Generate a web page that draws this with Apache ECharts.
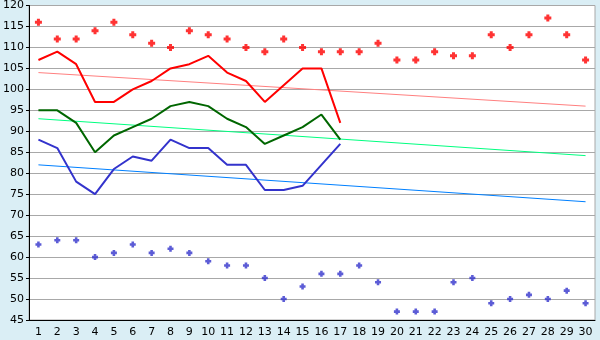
<!DOCTYPE html>
<html><head><meta charset="utf-8">
<script src="https://cdn.jsdelivr.net/npm/echarts@6/dist/echarts.min.js"></script>
<style>html,body{margin:0;padding:0;background:#daeef5;}#c{width:600px;height:340px;}</style>
</head><body><div id="c"></div>
<script>
const categories = ['1','2','3','4','5','6','7','8','9','10','11','12','13','14','15','16','17','18','19','20','21','22','23','24','25','26','27','28','29','30'];
const yTicks = [45,50,55,60,65,70,75,80,85,90,95,100,105,110,115,120];
const redDots = [116,112,112,114,116,113,111,110,114,113,112,110,109,112,110,109,109,109,111,107,107,109,108,108,113,110,113,117,113,107];
const redLine = [107,109,106,97,97,100,102,105,106,108,104,102,97,101,105,105,92];
const greenLine = [95,95,92,85,89,91,93,96,97,96,93,91,87,89,91,94,88];
const blueLine = [88,86,78,75,81,84,83,88,86,86,82,82,76,76,77,82,87];
const blueDots = [63,64,64,60,61,63,61,62,61,59,58,58,55,50,53,56,56,58,54,47,47,47,54,55,49,50,51,50,52,49];
const redTrend = [['1',104],['30',96]];
const greenTrend = [['1',93],['30',84.2]];
const blueTrend = [['1',82],['30',73.2]];

const plus = 'path://M2,0H5V2H7V5H5V7H2V5H0V2H2Z';
const chart = echarts.init(document.getElementById('c'));
const font = 'DejaVu Sans';
chart.setOption({
  backgroundColor: '#daeef5',
  animation: false,
  grid: {left: 26, right: 5, top: 5, bottom: 20, show: true, backgroundColor: '#ffffff', borderColor: '#a8a8a8', borderWidth: 1},
  xAxis: {
    type: 'category', data: categories, boundaryGap: true,
    axisLine: {lineStyle: {color: '#000000', width: 1}},
    axisTick: {alignWithLabel: true, length: 5, lineStyle: {color: '#000'}},
    axisLabel: {color: '#000', fontFamily: font, fontSize: 11, margin: 7, interval: 0},
    splitLine: {show: false}
  },
  yAxis: {
    type: 'value', min: 45, max: 120, interval: 5,
    axisLine: {show: true, lineStyle: {color: '#000000'}},
    axisTick: {show: true, length: 3, lineStyle: {color: '#000'}},
    axisLabel: {color: '#000', fontFamily: font, fontSize: 11, margin: 5},
    splitLine: {lineStyle: {color: '#a8a8a8', width: 1}}
  },
  series: [
    {type: 'line', data: redTrend, symbol: 'none', lineStyle: {color: '#ff8080', width: 1}, z: 1},
    {type: 'line', data: greenTrend, symbol: 'none', lineStyle: {color: '#00ff80', width: 1}, z: 1},
    {type: 'line', data: blueTrend, symbol: 'none', lineStyle: {color: '#0080ff', width: 1}, z: 1},
    {type: 'line', data: redLine, symbol: 'none', lineStyle: {color: '#ff0000', width: 2}, z: 3},
    {type: 'line', data: greenLine, symbol: 'none', lineStyle: {color: '#006600', width: 2}, z: 3},
    {type: 'line', data: blueLine, symbol: 'none', lineStyle: {color: '#3333cc', width: 2}, z: 3},
    {type: 'scatter', data: redDots, symbol: plus, symbolSize: 7, itemStyle: {color: '#ff0000'}, z: 4},
    {type: 'scatter', data: blueDots, symbol: plus, symbolSize: 6, itemStyle: {color: '#3333cc'}, z: 4}
  ]
});
</script></body></html>
